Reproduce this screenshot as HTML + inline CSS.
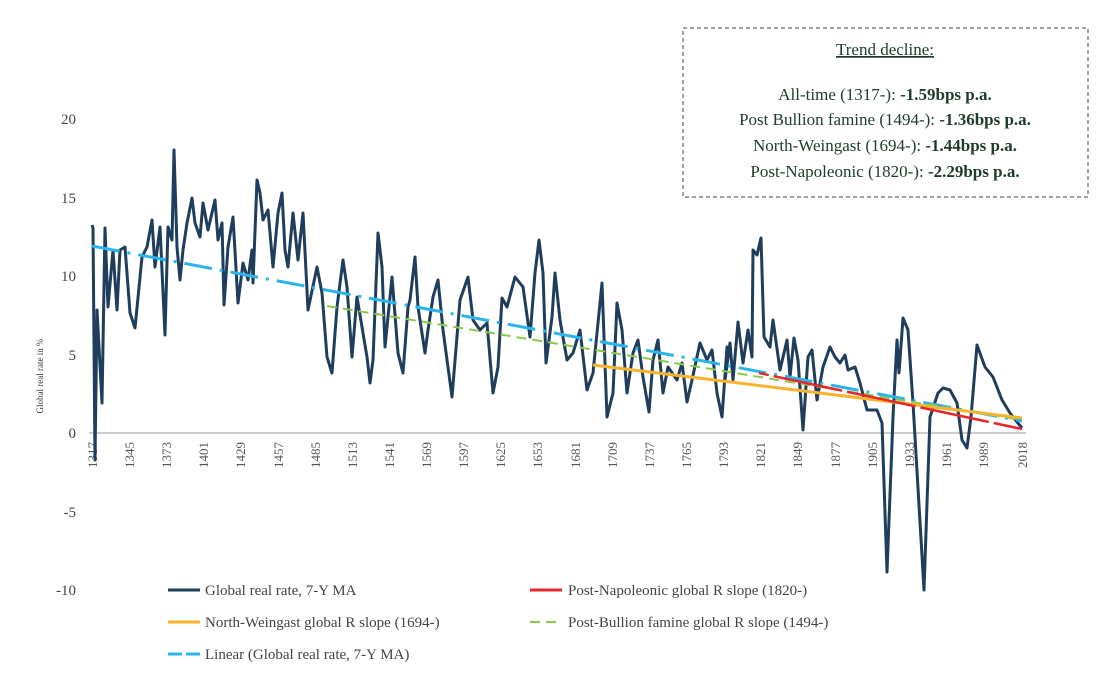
<!DOCTYPE html>
<html><head><meta charset="utf-8"><style>
body{margin:0;background:#fff;}
svg text{font-family:"Liberation Serif",serif;}
</style></head><body>
<svg width="1120" height="685" xmlns="http://www.w3.org/2000/svg">
<rect width="1120" height="685" fill="#fff"/>
<g font-size="15" fill="#444" text-anchor="end">
<text x="76" y="124">20</text>
<text x="76" y="203">15</text>
<text x="76" y="281">10</text>
<text x="76" y="360">5</text>
<text x="76" y="438">0</text>
<text x="76" y="517">-5</text>
<text x="76" y="595">-10</text>
</g>
<text transform="translate(43,376) rotate(-90)" font-size="9" fill="#333" text-anchor="middle">Global real rate in %</text>
<line x1="89" y1="433" x2="1026" y2="433" stroke="#bbb" stroke-width="1.5"/>
<g font-size="13" fill="#555" text-anchor="end">
<text transform="translate(97,442) rotate(-90)">1317</text>
<text transform="translate(134,442) rotate(-90)">1345</text>
<text transform="translate(171,442) rotate(-90)">1373</text>
<text transform="translate(208,442) rotate(-90)">1401</text>
<text transform="translate(245,442) rotate(-90)">1429</text>
<text transform="translate(283,442) rotate(-90)">1457</text>
<text transform="translate(320,442) rotate(-90)">1485</text>
<text transform="translate(357,442) rotate(-90)">1513</text>
<text transform="translate(394,442) rotate(-90)">1541</text>
<text transform="translate(431,442) rotate(-90)">1569</text>
<text transform="translate(468,442) rotate(-90)">1597</text>
<text transform="translate(505,442) rotate(-90)">1625</text>
<text transform="translate(542,442) rotate(-90)">1653</text>
<text transform="translate(580,442) rotate(-90)">1681</text>
<text transform="translate(617,442) rotate(-90)">1709</text>
<text transform="translate(654,442) rotate(-90)">1737</text>
<text transform="translate(691,442) rotate(-90)">1765</text>
<text transform="translate(728,442) rotate(-90)">1793</text>
<text transform="translate(765,442) rotate(-90)">1821</text>
<text transform="translate(802,442) rotate(-90)">1849</text>
<text transform="translate(840,442) rotate(-90)">1877</text>
<text transform="translate(877,442) rotate(-90)">1905</text>
<text transform="translate(914,442) rotate(-90)">1933</text>
<text transform="translate(951,442) rotate(-90)">1961</text>
<text transform="translate(988,442) rotate(-90)">1989</text>
<text transform="translate(1027,442) rotate(-90)">2018</text>
</g>
<polyline fill="none" stroke="#1f3d5c" stroke-width="3" stroke-linejoin="round" points="
92,225 93,228 95,460 97,310 102,403 105,228 108,307 113,250 117,310 120,250 125,247 130,313 135,328 142,257 147,247 152,220 155,267 160,227 165,335 168,227 172,240 174,150 177,247 180,280 183,250 187,223 192,198 195,223 200,237 203,203 208,230 215,200 218,240 222,223 224,305 228,247 233,217 238,303 243,263 248,280 252,250 253,283 257,180 260,193 263,220 268,210 273,267 278,213 282,193 285,250 288,267 293,213 298,260 303,213 308,310 317,267 322,293 327,357 332,373 337,307 343,260 347,287 352,357 357,297 363,333 367,357 370,383 373,360 378,233 382,267 385,347 392,277 398,353 403,373 408,307 410,300 415,257 418,307 425,353 428,330 433,297 438,280 443,330 452,397 460,300 468,277 473,320 480,330 487,323 493,393 498,367 502,298 507,307 515,277 523,287 530,337 535,273 539,240 543,273 546,363 552,317 555,273 560,320 567,360 573,353 580,330 587,390 593,373 602,283 607,417 613,393 617,303 622,330 627,393 633,353 638,340 643,377 649,412 653,360 658,340 663,393 668,367 677,380 682,363 687,402 692,380 700,343 707,360 712,350 717,393 722,417 727,347 725,380 730,343 733,380 738,322 743,363 748,330 752,357 753,250 757,255 761,238 764,337 770,347 773,320 780,370 787,340 790,377 794,338 798,360 803,430 808,357 812,350 817,400 823,367 830,347 835,357 840,363 845,355 848,370 855,367 860,383 867,410 877,410 882,423 887,572 893,417 897,340 899,373 903,318 908,330 913,403 924,590 930,417 938,393 943,388 950,390 957,403 962,440 967,448 971,417 977,345 985,367 993,377 1002,400 1010,413 1017,422 1022,428"/>
<line x1="92" y1="246" x2="1022" y2="421" stroke="#29b5ea" stroke-width="3" stroke-dasharray="28,8,3,8"/>
<line x1="327" y1="306" x2="1022" y2="420" stroke="#8cc84b" stroke-width="2" stroke-dasharray="10,6"/>
<line x1="593" y1="365" x2="1022" y2="418" stroke="#f7b32b" stroke-width="3"/>
<line x1="759" y1="373" x2="1022" y2="429" stroke="#e8262b" stroke-width="2.5" stroke-dasharray="10,5,60,0"/>
<rect x="683" y="28" width="405" height="169" fill="none" stroke="#444" stroke-width="1" stroke-dasharray="4,3"/>
<g font-size="17" fill="#1f3a2a" text-anchor="middle">
<text x="885" y="55" text-decoration="underline">Trend decline:</text>
<text x="885" y="100">All-time (1317-): <tspan font-weight="bold">-1.59bps p.a.</tspan></text>
<text x="885" y="125">Post Bullion famine (1494-): <tspan font-weight="bold">-1.36bps p.a.</tspan></text>
<text x="885" y="151">North-Weingast (1694-): <tspan font-weight="bold">-1.44bps p.a.</tspan></text>
<text x="885" y="177">Post-Napoleonic (1820-): <tspan font-weight="bold">-2.29bps p.a.</tspan></text>
</g>
<g font-size="15" fill="#444">
<line x1="168" y1="590" x2="200" y2="590" stroke="#1f3d5c" stroke-width="3"/>
<text x="205" y="595">Global real rate, 7-Y MA</text>
<line x1="530" y1="590" x2="562" y2="590" stroke="#e8262b" stroke-width="3"/>
<text x="568" y="595">Post-Napoleonic global R slope (1820-)</text>
<line x1="168" y1="622" x2="200" y2="622" stroke="#f7b32b" stroke-width="3"/>
<text x="205" y="627">North-Weingast global R slope (1694-)</text>
<line x1="530" y1="622" x2="562" y2="622" stroke="#8cc84b" stroke-width="2" stroke-dasharray="10,6"/>
<text x="568" y="627">Post-Bullion famine global R slope (1494-)</text>
<line x1="168" y1="654" x2="200" y2="654" stroke="#29b5ea" stroke-width="3" stroke-dasharray="14,4"/>
<text x="205" y="659">Linear (Global real rate, 7-Y MA)</text>
</g>
</svg>
</body></html>
